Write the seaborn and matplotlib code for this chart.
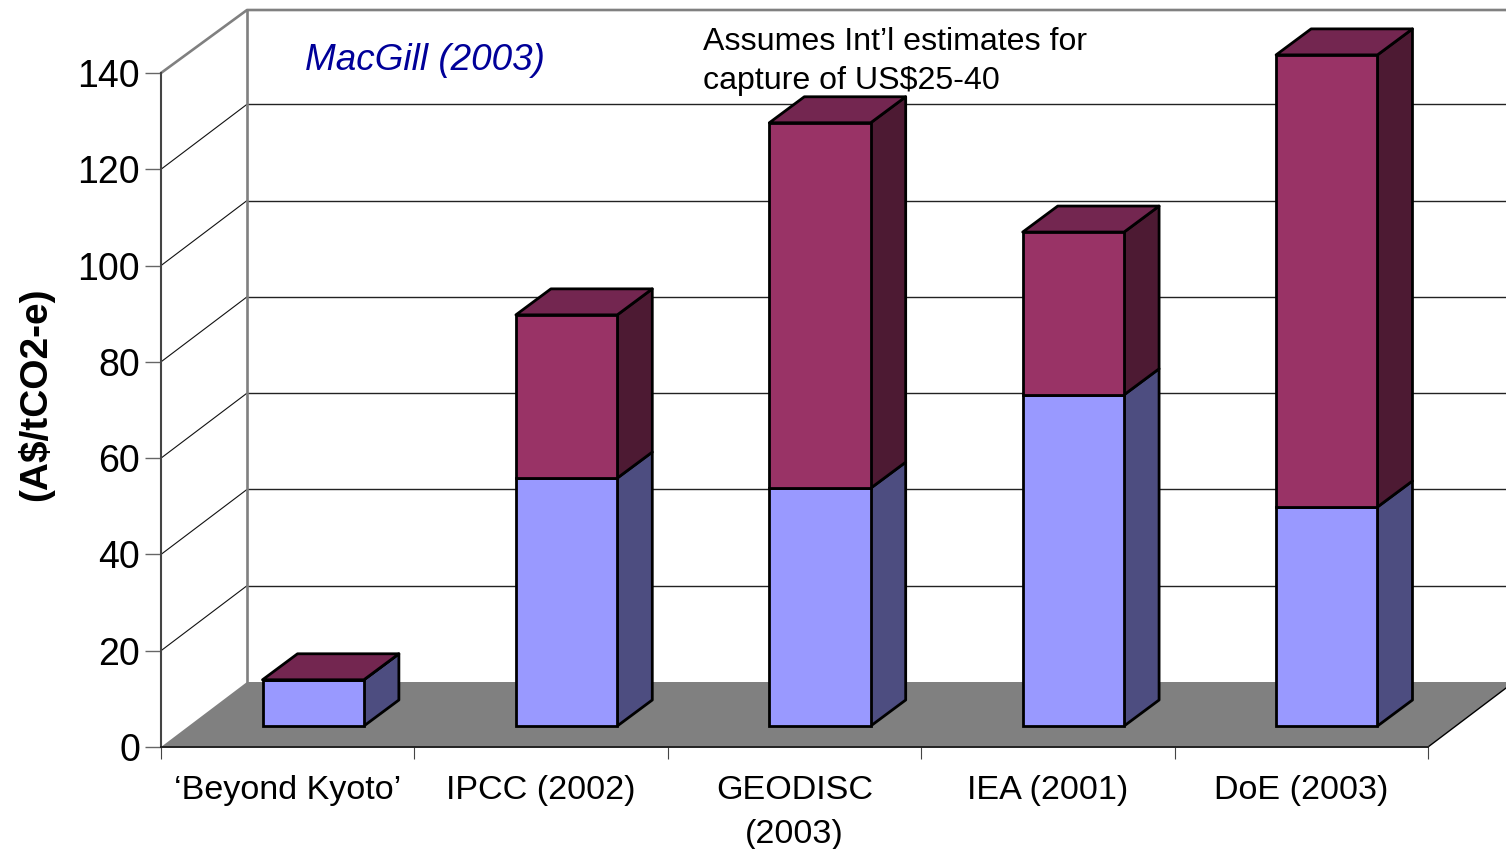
import matplotlib
matplotlib.use("Agg")
import matplotlib.pyplot as plt
from matplotlib.patches import Polygon
import numpy as np
import seaborn as sns

categories = ["\u2018Beyond Kyoto\u2019", "IPCC (2002)", "GEODISC\n(2003)", "IEA (2001)", "DoE (2003)"]
storage = [9.6, 51.5, 49.4, 68.8, 45.5]
capture = [0, 33.9, 75.9, 33.8, 93.9]
y_ticks = [0, 20, 40, 60, 80, 100, 120, 140]

sns.set_style("white")
plt.rcParams["font.family"] = ["Liberation Sans", "DejaVu Sans"]

W, H = 1506, 849
fig = plt.figure(figsize=(W / 100, H / 100), dpi=100)
ax = fig.add_axes([161 / W, 1 - 747 / H, (1428 - 161) / W, (747 - 73) / H])

# pixels to data units, the 3d look is only an offset
px_x = 1 / ((1428 - 161) / 5)
px_y = 140 / (747 - 73)
wall_dx, wall_dy = 86 * px_x, 65 * px_y
front_dx, front_dy = 25.5 * px_x, 21 * px_y
depth_dx, depth_dy = 35 * px_x, 26 * px_y

sns.barplot(x=categories, y=storage, width=0.4, color="#9999FF", saturation=1,
            edgecolor="black", linewidth=2, zorder=5, clip_on=False, ax=ax)
sns.barplot(x=categories, y=capture, bottom=storage, width=0.4, color="#993366", saturation=1,
            edgecolor="black", linewidth=2, zorder=5, clip_on=False, ax=ax)

ax.set_xlim(-0.5, 4.5)
ax.set_ylim(0, 140)

# back wall and floor
right = 4.5 + wall_dx
wall_top = 140 + wall_dy - 2 * px_y
for t in y_ticks[1:-1]:
    ax.plot([-0.5, -0.5 + wall_dx], [t, t + wall_dy], color="#111111", lw=0.8, zorder=1, clip_on=False)
    ax.plot([-0.5 + wall_dx, right], [t + wall_dy, t + wall_dy], color="#222222", lw=1, zorder=1, clip_on=False)
ax.plot([-0.5, -0.5 + wall_dx, right], [140, wall_top, wall_top],
        color="#808080", lw=1.9, zorder=1, clip_on=False)
ax.plot([-0.5 + wall_dx, -0.5 + wall_dx], [wall_dy, wall_top], color="#808080", lw=1.9,
        zorder=1, clip_on=False)
floor = [(-0.5, 0), (4.5, 0), (right, wall_dy), (-0.5 + wall_dx, wall_dy)]
ax.add_patch(Polygon(floor, closed=True, facecolor="#808080", edgecolor="none", zorder=2, clip_on=False))
ax.plot([4.5, right], [0, wall_dy], color="black", lw=1, zorder=3, clip_on=False)

# move the bars onto the floor and add side and top faces
n = len(categories)
side_colors = ["#4D4D80"] * n + ["#4D1A33"] * n
for i, bar in enumerate(ax.patches[:2 * n]):
    bar.set_x(bar.get_x() + front_dx)
    bar.set_y(bar.get_y() + front_dy)
    x1 = bar.get_x() + bar.get_width()
    y0 = bar.get_y()
    y1 = y0 + bar.get_height()
    side = [(x1, y0), (x1 + depth_dx, y0 + depth_dy), (x1 + depth_dx, y1 + depth_dy), (x1, y1)]
    ax.add_patch(Polygon(side, closed=True, facecolor=side_colors[i], edgecolor="black", lw=2,
                         joinstyle="round", zorder=4, clip_on=False))
    if i >= n:
        x0 = bar.get_x()
        top = [(x0, y1), (x1, y1), (x1 + depth_dx, y1 + depth_dy), (x0 + depth_dx, y1 + depth_dy)]
        ax.add_patch(Polygon(top, closed=True, facecolor="#732650", edgecolor="black", lw=2,
                             joinstyle="round", zorder=4, clip_on=False))

sns.despine(ax=ax, top=True, right=True)
ax.patch.set_alpha(0)
ax.spines["left"].set_color("#444444")
ax.spines["left"].set_linewidth(1.5)
ax.spines["left"].set_zorder(3)
ax.spines["bottom"].set_color("#222222")
ax.spines["bottom"].set_linewidth(1.4)
ax.spines["bottom"].set_zorder(3)

ax.set_yticks(y_ticks)
ax.tick_params(axis="y", which="major", left=True, length=11.5, width=1, color="#666666",
               labelsize=27, labelcolor="black", pad=3.5)
ax.tick_params(axis="x", which="major", bottom=False, length=0, labelsize=24.6, labelcolor="black", pad=20)
ax.set_xticks(np.arange(-0.5, 4.6, 1), minor=True)
ax.tick_params(axis="x", which="minor", bottom=True, length=8.5, width=0.8, color="#444444")
for label in ax.get_xticklabels():
    label.set_linespacing(1.56)

fig.text(36 / W, 1 - 394 / H, "(A$/tCO2-e)", rotation=90, fontsize=28, fontweight="bold",
         color="black", ha="center", va="center")
fig.text(305 / W, 1 - 61 / H, "MacGill (2003)", color="#000099", style="italic", fontsize=26.6,
         ha="left", va="center")
fig.text(703 / W, 1 - 61.5 / H, "Assumes Int\u2019l estimates for\ncapture of US$25-40", fontsize=23.1,
         color="black", ha="left", va="center", linespacing=1.37, zorder=10)

fig.savefig("out.png", dpi=100, facecolor="white")
